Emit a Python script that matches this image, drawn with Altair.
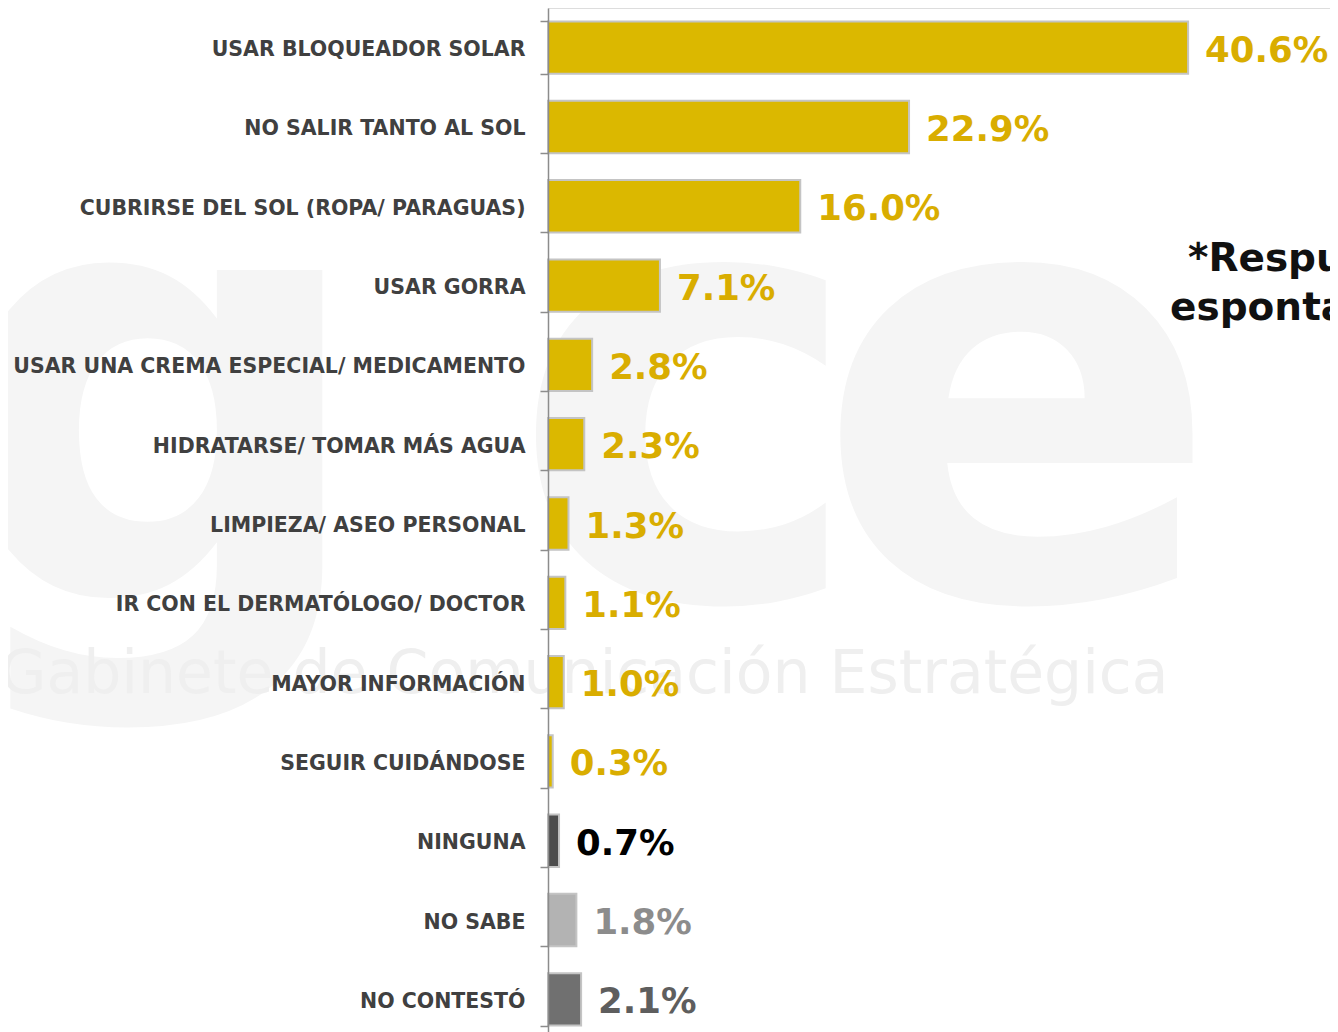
import altair as alt
import pandas as pd

categories = [
    "USAR BLOQUEADOR SOLAR",
    "NO SALIR TANTO AL SOL",
    "CUBRIRSE DEL SOL (ROPA/ PARAGUAS)",
    "USAR GORRA",
    "USAR UNA CREMA ESPECIAL/ MEDICAMENTO",
    "HIDRATARSE/ TOMAR MÁS AGUA",
    "LIMPIEZA/ ASEO PERSONAL",
    "IR CON EL DERMATÓLOGO/ DOCTOR",
    "MAYOR INFORMACIÓN",
    "SEGUIR CUIDÁNDOSE",
    "NINGUNA",
    "NO SABE",
    "NO CONTESTÓ",
]
values = [40.6, 22.9, 16.0, 7.1, 2.8, 2.3, 1.3, 1.1, 1.0, 0.3, 0.7, 1.8, 2.1]
value_labels = ["40.6%", "22.9%", "16.0%", "7.1%", "2.8%", "2.3%", "1.3%",
                "1.1%", "1.0%", "0.3%", "0.7%", "1.8%", "2.1%"]

bar_colors = ["#DBB800"] * 10 + ["#4D4D4D", "#B3B3B3", "#707070"]
label_colors = ["#D9AD00"] * 10 + ["#000000", "#8C8C8C", "#5E5E5E"]

df = pd.DataFrame({"cat": categories, "val": values, "lab": value_labels})

FONT = "DejaVu Sans"

y_scale = alt.Scale(paddingInner=0.34, paddingOuter=0.17, range=[0, 1031])
y_enc = alt.Y(
    "cat:N",
    sort=categories,
    title=None,
    scale=y_scale,
    axis=alt.Axis(
        tickBand="extent",
        tickSize=8,
        tickColor="#8C8C8C",
        domainColor="#8C8C8C",
        domainWidth=1.5,
        tickWidth=1.5,
        labelPadding=15,
        labelOffset=2,
        labelFont=FONT,
        labelFontSize=20.5,
        labelFontWeight="bold",
        labelColor="#404040",
        labelLimit=600,
        zindex=1,
    ),
)
x_enc = alt.X("val:Q", axis=None, scale=alt.Scale(domain=[0, 49.6], nice=False))

base = alt.Chart(df)

wm_letters = pd.DataFrame({"t": ["g", "c", "e"], "px": [-390, 140, 470]})
watermark = alt.Chart(wm_letters).mark_text(
    font=FONT, fontSize=600, fontWeight="bold", color="#F5F5F5",
    align="center", baseline="alphabetic"
).encode(text="t:N", x=alt.X("px:Q", scale=None), y=alt.value(590))

watermark2 = alt.Chart(pd.DataFrame({"t": ["Gabinete de Comunicación Estratégica"]})).mark_text(
    font=FONT, fontSize=60, color="#EFEFEF", align="left", baseline="alphabetic"
).encode(text="t:N", x=alt.value(-548), y=alt.value(685))

bars = base.mark_bar(stroke="#C4C4C4", strokeWidth=2).encode(
    y=y_enc,
    x=x_enc,
    color=alt.Color("cat:N", scale=alt.Scale(domain=categories, range=bar_colors), legend=None),
)

texts = base.mark_text(
    align="left", baseline="middle", dx=17, dy=3, font=FONT, fontSize=35.5, fontWeight="bold"
).encode(
    y=alt.Y("cat:N", sort=categories),
    x=x_enc,
    text="lab:N",
    color=alt.Color("cat:N", scale=alt.Scale(domain=categories, range=label_colors), legend=None),
)

note_df = pd.DataFrame({"t": ["*Respuesta", "espontánea"], "px": [640, 622], "py": [251, 300]})
note = alt.Chart(note_df).mark_text(
    font=FONT, fontSize=39, fontWeight="bold", color="#111111",
    align="left", baseline="middle"
).encode(text="t:N", x=alt.X("px:Q", scale=None), y=alt.Y("py:Q", scale=None))

chart = alt.layer(watermark, watermark2, bars, texts, note).resolve_scale(
    color="independent"
).properties(
    width=782,
    height=1024,
    autosize=alt.AutoSizeParams(type="none"),
    padding={"left": 540, "top": 0, "right": 0, "bottom": 0},
).configure_view(stroke=None).configure(background="white")

chart.save("out.html", embed_options={"renderer": "svg", "actions": False})
